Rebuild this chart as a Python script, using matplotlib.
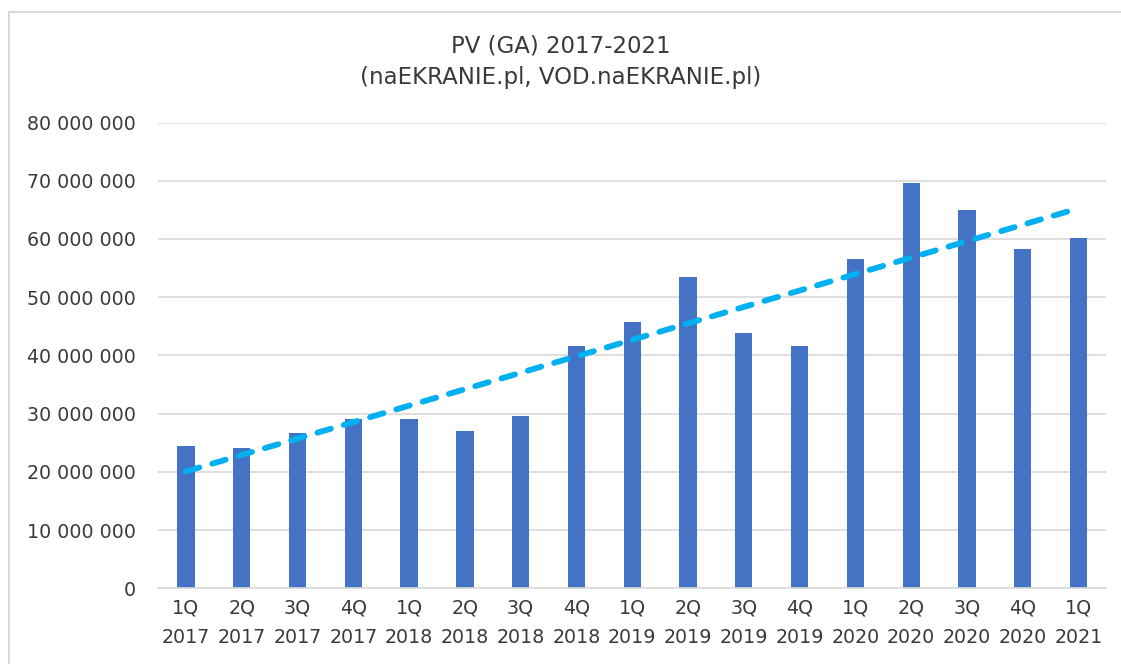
"""
plot.py
PV (GA) 2017-2021 - bar chart with linear trend line
"""
import numpy as np
import matplotlib.pyplot as plt
from matplotlib.lines import Line2D
from matplotlib.ticker import FuncFormatter

# Data
quarters = ["1Q", "2Q", "3Q", "4Q", "1Q", "2Q", "3Q", "4Q", "1Q",
            "2Q", "3Q", "4Q", "1Q", "2Q", "3Q", "4Q", "1Q"]
years = ["2017", "2017", "2017", "2017", "2018", "2018", "2018", "2018", "2019",
         "2019", "2019", "2019", "2020", "2020", "2020", "2020", "2021"]
page_views = [24450000, 24050000, 26600000, 29000000, 29000000, 27000000,
              29600000, 41600000, 45800000, 53400000, 43800000, 41600000,
              56500000, 69600000, 65000000, 58200000, 60200000]
y_ticks = [0, 10000000, 20000000, 30000000, 40000000, 50000000,
           60000000, 70000000, 80000000]

BAR_COLOR = "#4472C4"
TREND_COLOR = "#00B0F0"
GRID_COLOR = "#D9D9D9"
TEXT_COLOR = "#3A3A3A"

plt.rcParams["font.family"] = ["DejaVu Sans"]

fig = plt.figure(figsize=(11.21, 6.64), dpi=100)
ax = fig.add_axes([0.141, 0.114, 0.846, 0.7015])

x = np.arange(len(page_views))
ax.bar(x, page_views, width=0.31, color=BAR_COLOR, zorder=2)

# linear trend line like Excel's
coef = np.polyfit(x, page_views, 1)
trend = np.polyval(coef, x)
ax.plot(x, trend, color=TREND_COLOR, linewidth=4.2, linestyle=(0, (2.4, 2.3)),
        dash_capstyle="round", zorder=3)

ax.set_xlim(-0.5, len(page_views) - 0.5)
ax.set_ylim(0, 80000000)
ax.set_yticks(y_ticks)
ax.yaxis.set_major_formatter(FuncFormatter(lambda v, p: f"{int(v):,}".replace(",", " ")))
ax.set_xticks(x)
ax.set_xticklabels([q + "\n" + y for q, y in zip(quarters, years)], linespacing=1.75)

ax.grid(axis="y", color=GRID_COLOR, linewidth=1.2, zorder=0)
ax.set_axisbelow(True)
for side in ["top", "right", "left"]:
    ax.spines[side].set_visible(False)
ax.spines["bottom"].set_color(GRID_COLOR)
ax.spines["bottom"].set_linewidth(1.2)
ax.tick_params(axis="both", length=0, labelsize=13.7, colors=TEXT_COLOR)
ax.tick_params(axis="y", pad=16)
ax.tick_params(axis="x", pad=7)

fig.text(0.5, 0.931, "PV (GA) 2017-2021", ha="center", va="center",
         fontsize=16.5, color=TEXT_COLOR)
fig.text(0.5, 0.883, "(naEKRANIE.pl, VOD.naEKRANIE.pl)", ha="center", va="center",
         fontsize=16.5, color=TEXT_COLOR)

# chart frame (only left and top edges show in the picture)
fig.add_artist(Line2D([9 / 1121, 9 / 1121], [0, 1 - 12 / 664], transform=fig.transFigure,
                      color=GRID_COLOR, linewidth=1.5))
fig.add_artist(Line2D([9 / 1121, 1], [1 - 12 / 664, 1 - 12 / 664], transform=fig.transFigure,
                      color=GRID_COLOR, linewidth=1.5))

fig.savefig("out.png", dpi=100)
